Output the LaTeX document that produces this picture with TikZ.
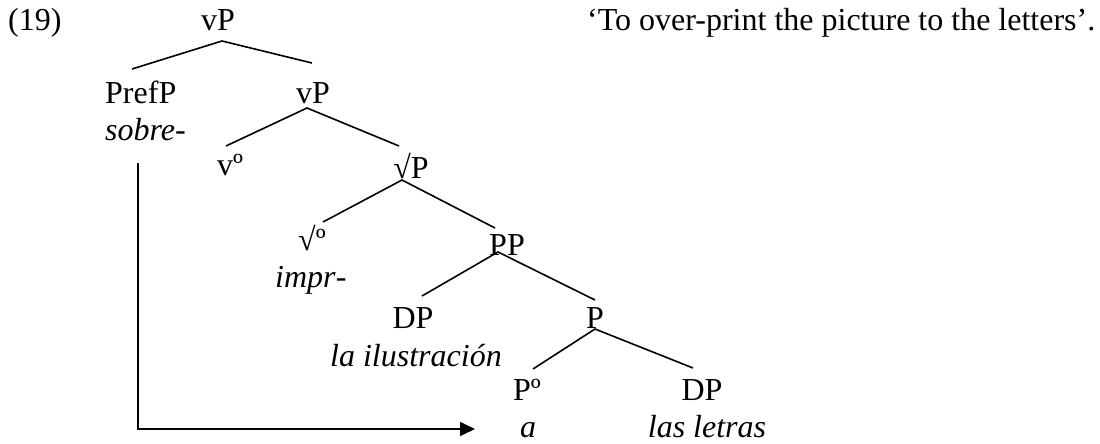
\documentclass[tikz,border=0pt]{standalone}
\usepackage{fontspec}
\setmainfont{Liberation Serif}
\usetikzlibrary{arrows.meta}
\begin{document}
\begin{tikzpicture}[x=1pt,y=-1pt,
  lbl/.style={inner sep=0pt,anchor=base},
  lblw/.style={inner sep=0pt,anchor=base west},
  edge/.style={line width=1.6pt},
  font=\fontsize{32}{38}\selectfont]
\useasboundingbox (0,0) rectangle (1100,444);
% texts
\node[lblw] (ex) at (8,31) {(19)};
\node[lblw] (gloss) at (587,31) {‘To over-print the picture to the letters’.};
\node[lbl] (vP1) at (218,31) {vP};
\node[lblw] (PrefP) at (105,103) {PrefP};
\node[lblw] (sobre) at (105,140) {\textit{sobre}-};
\node[lbl] (vP2) at (313,103) {vP};
\node[lbl] (v0) at (230,175) {vº};
\node[lbl] (rootP) at (411,178) {√P};
\node[lblw] (root0) at (298,250) {√º};
\node[lblw] (impr) at (275,287) {\textit{impr}-};
\node[lbl] (PP) at (507,255) {PP};
\node[lbl] (DP1) at (413,328) {DP};
\node[lblw] (ilus) at (330,366) {\textit{la ilustración}};
\node[lbl] (P1) at (595,328) {P};
\node[lblw] (P0) at (513,400) {Pº};
\node[lbl] (a) at (528,437) {\textit{a}};
\node[lbl] (DP2) at (702,400) {DP};
\node[lbl] (letras) at (707,437) {\textit{las letras}};
% branch end points
\coordinate (vP1b) at (222,41);
\coordinate (PrefPt) at (132,69);
\coordinate (vP2t) at (312,63);
\coordinate (vP2b) at (307,108);
\coordinate (v0t) at (226,146);
\coordinate (rootPt) at (399,146);
\coordinate (rootPb) at (402,180);
\coordinate (root0t) at (323,222);
\coordinate (PPt) at (495,228);
\coordinate (PPb) at (498,252);
\coordinate (DP1t) at (422,296);
\coordinate (P1t) at (595,300);
\coordinate (P1b) at (595,329);
\coordinate (P0t) at (533,369);
\coordinate (DP2t) at (693,368);
\coordinate (arrS) at (138,163);
\coordinate (arrC) at (138,429);
\coordinate (arrE) at (475,429);
% branches
\draw[edge] (PrefPt) -- (vP1b) -- (vP2t);
\draw[edge] (v0t) -- (vP2b) -- (rootPt);
\draw[edge] (root0t) -- (rootPb) -- (PPt);
\draw[edge] (DP1t) -- (PPb) -- (P1t);
\draw[edge] (P0t) -- (P1b) -- (DP2t);
% movement arrow
\draw[edge,-{Triangle[length=15pt,width=14pt]}] (arrS) -- (arrC) -- (arrE);
\end{tikzpicture}
\end{document}
